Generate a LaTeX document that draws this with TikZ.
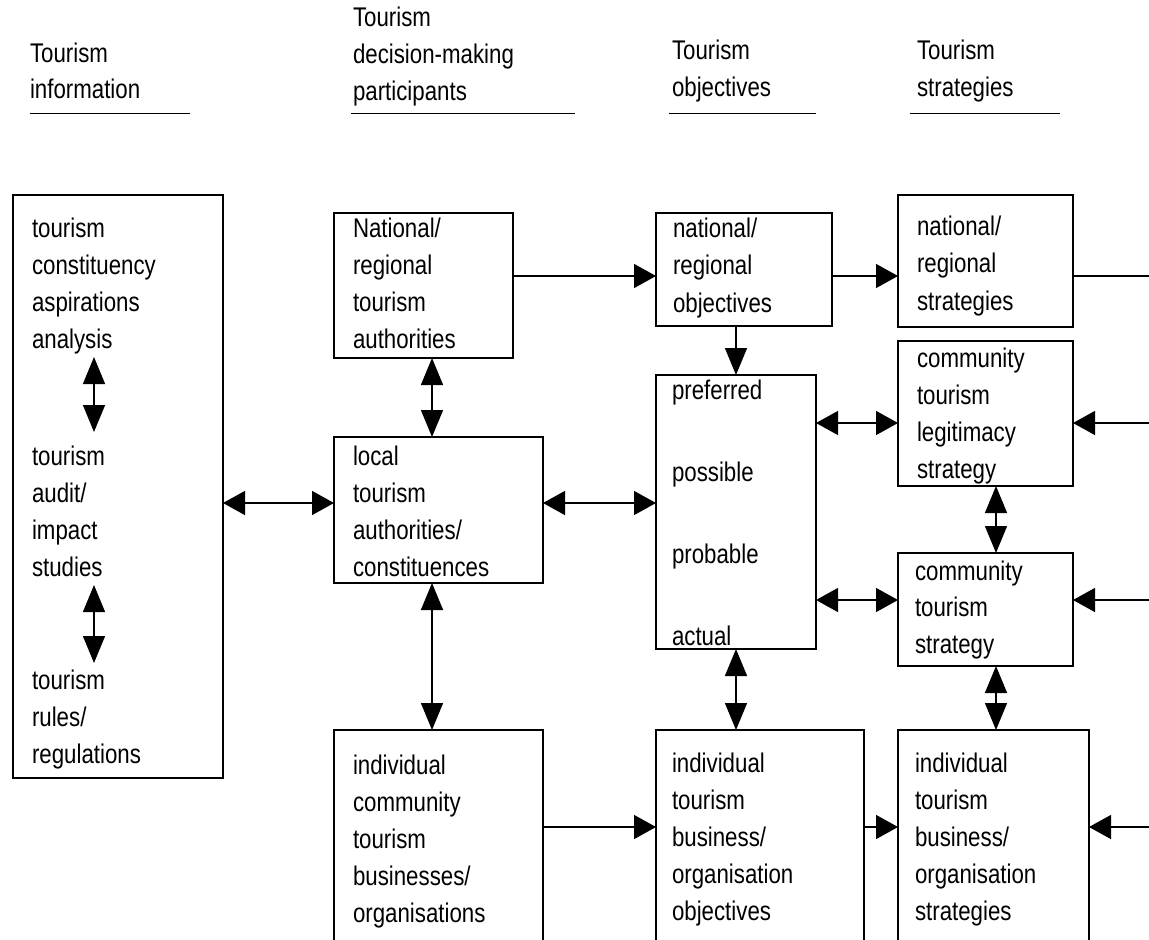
\documentclass[tikz,border=0pt]{standalone}
\usepackage{fontspec}
\setmainfont[FakeStretch=0.825]{Liberation Sans}
\usetikzlibrary{arrows.meta}

% Text blocks are placed by the baseline of their last line.
\tikzset{
  x=1pt, y=-1pt,
  box/.style={draw, line width=1.4pt, anchor=north west, inner sep=0pt, outer sep=0pt},
  txt/.style={anchor=base west, inner sep=0pt, outer sep=0pt, align=left,
              font=\fontsize{27pt}{#1}\selectfont},
  txt/.default=36.8pt,
  con/.style={line width=1.4pt},
  ht/.tip={Triangle[length=22pt,width=24pt]},
  vt/.tip={Triangle[length=27pt,width=22pt]},
}

\begin{document}
\begin{tikzpicture}
\clip (0,0) rectangle (1149,940);
\fill[white] (0,0) rectangle (1149,940);

% column headings
\node[txt=35.5pt] (h1) at (30,98.3)  {Tourism\\information};
\node[txt=36.6pt] (h2) at (353,100)  {Tourism\\decision-making\\participants};
\node[txt=37.4pt] (h3) at (672,96.7) {Tourism\\objectives};
\node[txt=37.4pt] (h4) at (917,96.7) {Tourism\\strategies};
\draw[con] (30,113.3) -- (190,113.3);
\draw[con] (351,113.3) -- (575,113.3);
\draw[con] (669,113.3) -- (816,113.3);
\draw[con] (910,113.3) -- (1060,113.3);

% boxes
\node[box, minimum width=210pt, minimum height=583pt] (A) at (13,195) {};
\node[box, minimum width=179pt, minimum height=145pt] (B) at (334,213) {};
\node[box, minimum width=176pt, minimum height=113pt] (C) at (656,213) {};
\node[box, minimum width=175pt, minimum height=132pt] (D) at (898,195) {};
\node[box, minimum width=209pt, minimum height=146pt] (E) at (334,437) {};
\node[box, minimum width=160pt, minimum height=274pt] (F) at (656,375) {};
\node[box, minimum width=175pt, minimum height=145pt] (G) at (898,341) {};
\node[box, minimum width=175pt, minimum height=113pt] (H) at (898,553) {};
\node[box, minimum width=209pt, minimum height=260pt] (I) at (334,730) {};
\node[box, minimum width=208pt, minimum height=260pt] (J) at (656,730) {};
\node[box, minimum width=191pt, minimum height=260pt] (K) at (898,730) {};

% box texts
\node[txt=36.7pt] (ta1) at (32,348) {tourism\\constituency\\aspirations\\analysis};
\node[txt=37pt]   (ta2) at (32,576) {tourism\\audit/\\impact\\studies};
\node[txt=37pt]   (ta3) at (32,763) {tourism\\rules/\\regulations};
\node[txt=37pt]   (tb) at (353,348) {National/\\regional\\tourism\\authorities};
\node[txt=37.5pt] (tc) at (673,312) {national/\\regional\\objectives};
\node[txt=37.5pt] (td) at (917,310) {national/\\regional\\strategies};
\node[txt=36.7pt] (te) at (353,576) {local\\tourism\\authorities/\\constituences};
\node[txt=81.7pt] (tf) at (672,645) {preferred\\possible\\probable\\actual};
\node[txt=37pt]   (tg) at (917,478) {community\\tourism\\legitimacy\\strategy};
\node[txt=36.5pt] (th) at (915,653) {community\\tourism\\strategy};
\node[txt=37pt]   (ti) at (353,922) {individual\\community\\tourism\\businesses/\\organisations};
\node[txt=36.8pt] (tj) at (672,920) {individual\\tourism\\business/\\organisation\\objectives};
\node[txt=36.8pt] (tk) at (915,920) {individual\\tourism\\business/\\organisation\\strategies};

% end points inside the information box and at the right border
\coordinate (a1) at (94,357);
\coordinate (a2) at (94,432);
\coordinate (a3) at (94,585);
\coordinate (a4) at (94,663);
\coordinate (rD) at (1149,276);
\coordinate (rG) at (1149,423);
\coordinate (rH) at (1149,600);
\coordinate (rK) at (1149,827);

% connectors
\draw[con, vt-vt] (a1) -- (a2);
\draw[con, vt-vt] (a3) -- (a4);
\draw[con, ht-ht] (A.east |- 0,503) -- (E.west |- 0,503);
\draw[con, vt-vt] (B.south -| 432,0) -- (E.north -| 432,0);
\draw[con, -ht]   (B.east |- 0,276) -- (C.west |- 0,276);
\draw[con, -ht]   (C.east |- 0,276) -- (D.west |- 0,276);
\draw[con]        (D.east |- rD) -- (rD);
\draw[con, -vt]   (C.south -| 736,0) -- (F.north -| 736,0);
\draw[con, ht-ht] (E.east |- 0,503) -- (F.west |- 0,503);
\draw[con, ht-ht] (F.east |- rG) -- (G.west |- rG);
\draw[con, -ht]   (rG) -- (G.east |- rG);
\draw[con, vt-vt] (G.south -| 996,0) -- (H.north -| 996,0);
\draw[con, ht-ht] (F.east |- rH) -- (H.west |- rH);
\draw[con, -ht]   (rH) -- (H.east |- rH);
\draw[con, vt-vt] (E.south -| 432,0) -- (I.north -| 432,0);
\draw[con, vt-vt] (F.south -| 736,0) -- (J.north -| 736,0);
\draw[con, vt-vt] (H.south -| 996,0) -- (K.north -| 996,0);
\draw[con, -ht]   (I.east |- rK) -- (J.west |- rK);
\draw[con, -ht]   (J.east |- rK) -- (K.west |- rK);
\draw[con, -ht]   (rK) -- (K.east |- rK);
\end{tikzpicture}
\end{document}
